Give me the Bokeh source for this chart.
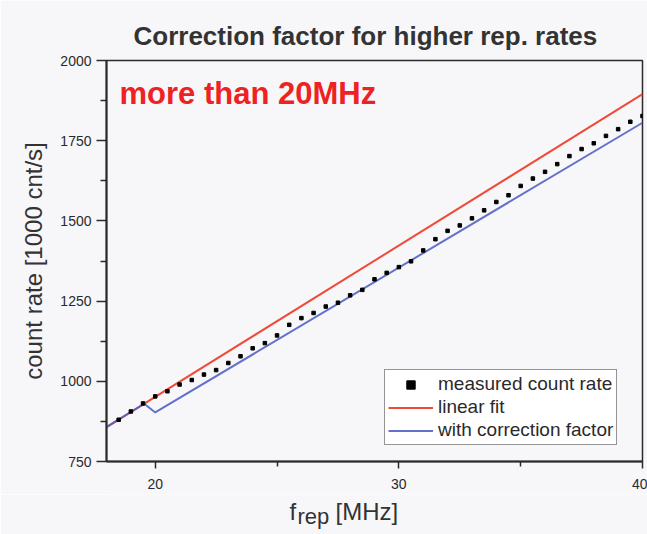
from bokeh.plotting import figure
from bokeh.models import Label, Legend, LegendItem, FixedTicker
from bokeh.layouts import column
from bokeh.embed import file_html
from bokeh.resources import INLINE

# ---- data ----
freq = [18.5, 19.0, 19.5, 20.0, 20.5, 21.0, 21.5, 22.0, 22.5, 23.0, 23.5,
        24.0, 24.5, 25.0, 25.5, 26.0, 26.5, 27.0, 27.5, 28.0, 28.5, 29.0,
        29.5, 30.0, 30.5, 31.0, 31.5, 32.0, 32.5, 33.0, 33.5, 34.0, 34.5,
        35.0, 35.5, 36.0, 36.5, 37.0, 37.5, 38.0, 38.5, 39.0, 39.5, 40.0]
measured = [880, 906, 931, 953, 969, 990, 1004, 1021, 1035, 1057, 1078,
            1103, 1119, 1143, 1176, 1197, 1213, 1233, 1245, 1268, 1285, 1318,
            1338, 1356, 1374, 1408, 1443, 1469, 1486, 1508, 1533, 1559, 1580,
            1609, 1632, 1653, 1677, 1702, 1724, 1742, 1765, 1786, 1809, 1827]
fit_x = [18.0, 40.0]
fit_y = [857, 1895]
corr_x = [18.0, 19.55, 20.0, 40.0]
corr_y = [857, 930, 903, 1806]

x_major = [20, 30, 40]
x_minor = [25, 35]
y_major = [750, 1000, 1250, 1500, 1750, 2000]
y_minor = [875, 1125, 1375, 1625, 1875]

title_text = "Correction factor for higher rep. rates"
note_text = "more than 20MHz"
ylabel_text = "count rate [1000 cnt/s]"
xlabel_parts = ["f", "rep", "[MHz]"]
legend_labels = ["measured count rate", "linear fit", "with correction factor"]

FONT = "Liberation Sans"
BG = "#f7f7fa"
INK = "#2a2a2a"
TXT = "#333333"

W = 647
H_MAIN = 494
H_STRIP = 40
FRAME_LEFT = 106

p = figure(width=W, height=H_MAIN, x_range=(18, 40), y_range=(750, 2000),
           output_backend="svg", toolbar_location=None,
           min_border_left=FRAME_LEFT, min_border_right=5,
           min_border_top=60, min_border_bottom=33)
p.background_fill_color = BG
p.border_fill_color = BG
p.grid.visible = False
p.outline_line_color = INK
p.outline_line_width = 1.5

p.title.text = title_text
p.title.text_font = FONT
p.title.text_font_size = "26px"
p.title.text_font_style = "bold"
p.title.text_color = TXT
p.title.align = "left"
p.title.offset = 27
p.title.standoff = 20

for ax in (p.xaxis[0], p.yaxis[0]):
    ax.axis_line_color = INK
    ax.axis_line_width = 2
    ax.major_tick_line_color = INK
    ax.minor_tick_line_color = INK
    ax.major_tick_line_width = 1.5
    ax.minor_tick_line_width = 1.5
    ax.major_tick_in = 0
    ax.minor_tick_in = 0
    ax.major_label_text_font = FONT
    ax.major_label_text_font_size = "14px"
    ax.major_label_text_color = INK

p.xaxis.ticker = FixedTicker(ticks=x_major, minor_ticks=x_minor)
p.yaxis.ticker = FixedTicker(ticks=y_major, minor_ticks=y_minor)
p.xaxis.major_tick_out = 7
p.xaxis.minor_tick_out = 5
p.yaxis.major_tick_out = 10
p.yaxis.minor_tick_out = 6
p.xaxis.major_label_standoff = 10
p.yaxis.major_label_standoff = 5

p.yaxis.axis_label = ylabel_text
p.yaxis.axis_label_text_font = FONT
p.yaxis.axis_label_text_font_size = "24px"
p.yaxis.axis_label_text_font_style = "normal"
p.yaxis.axis_label_text_color = TXT
p.yaxis.axis_label_standoff = 10

r_fit = p.line(fit_x, fit_y, line_color="#f04a38", line_width=2)
r_corr = p.line(corr_x, corr_y, line_color="#5262c4", line_width=2, line_alpha=0.9)
r_meas = p.scatter(freq, measured, marker="square", size=3.5,
                   fill_color="black", line_color="black")

legend = Legend(items=[LegendItem(label=legend_labels[0], renderers=[r_meas]),
                       LegendItem(label=legend_labels[1], renderers=[r_fit]),
                       LegendItem(label=legend_labels[2], renderers=[r_corr])],
                location=(278, 16))
legend.label_text_font = FONT
legend.label_text_font_size = "19px"
legend.label_text_color = INK
legend.label_height = 21
legend.glyph_height = 21
legend.glyph_width = 45
legend.label_standoff = 5
legend.spacing = 1
legend.padding = 3
legend.margin = 0
legend.border_line_color = INK
legend.border_line_width = 1.5
legend.background_fill_color = "white"
legend.background_fill_alpha = 1
p.add_layout(legend, "center")

p.add_layout(Label(x=13, y=368, x_units="screen", y_units="screen",
                   text=note_text, text_font=FONT, text_font_size="31px",
                   text_font_style="bold", text_color="#ee2222",
                   text_align="left", text_baseline="alphabetic"))

# strip under the chart carrying the x-axis label (f with subscript "rep");
# its frame is aligned with the main frame, so x is measured from FRAME_LEFT
s = figure(width=W, height=H_STRIP, x_range=(0, W), y_range=(0, H_STRIP),
           output_backend="svg", toolbar_location=None,
           min_border=0, x_axis_location=None, y_axis_location=None)
s.background_fill_color = BG
s.border_fill_color = BG
s.outline_line_color = None
s.grid.visible = False

s.add_layout(Label(x=289 - FRAME_LEFT, y=23, x_units="screen", y_units="screen",
                   text=xlabel_parts[0], text_font=FONT, text_font_size="24px",
                   text_color=TXT, text_align="left", text_baseline="alphabetic"))
s.add_layout(Label(x=297 - FRAME_LEFT, y=18, x_units="screen", y_units="screen",
                   text=xlabel_parts[1], text_font=FONT, text_font_size="22px",
                   text_color=TXT, text_align="left", text_baseline="alphabetic"))
s.add_layout(Label(x=335 - FRAME_LEFT, y=23, x_units="screen", y_units="screen",
                   text=xlabel_parts[2], text_font=FONT, text_font_size="24px",
                   text_color=TXT, text_align="left", text_baseline="alphabetic"))

layout = column(p, s, spacing=0)
open("out.html", "w").write(file_html(layout, INLINE))
